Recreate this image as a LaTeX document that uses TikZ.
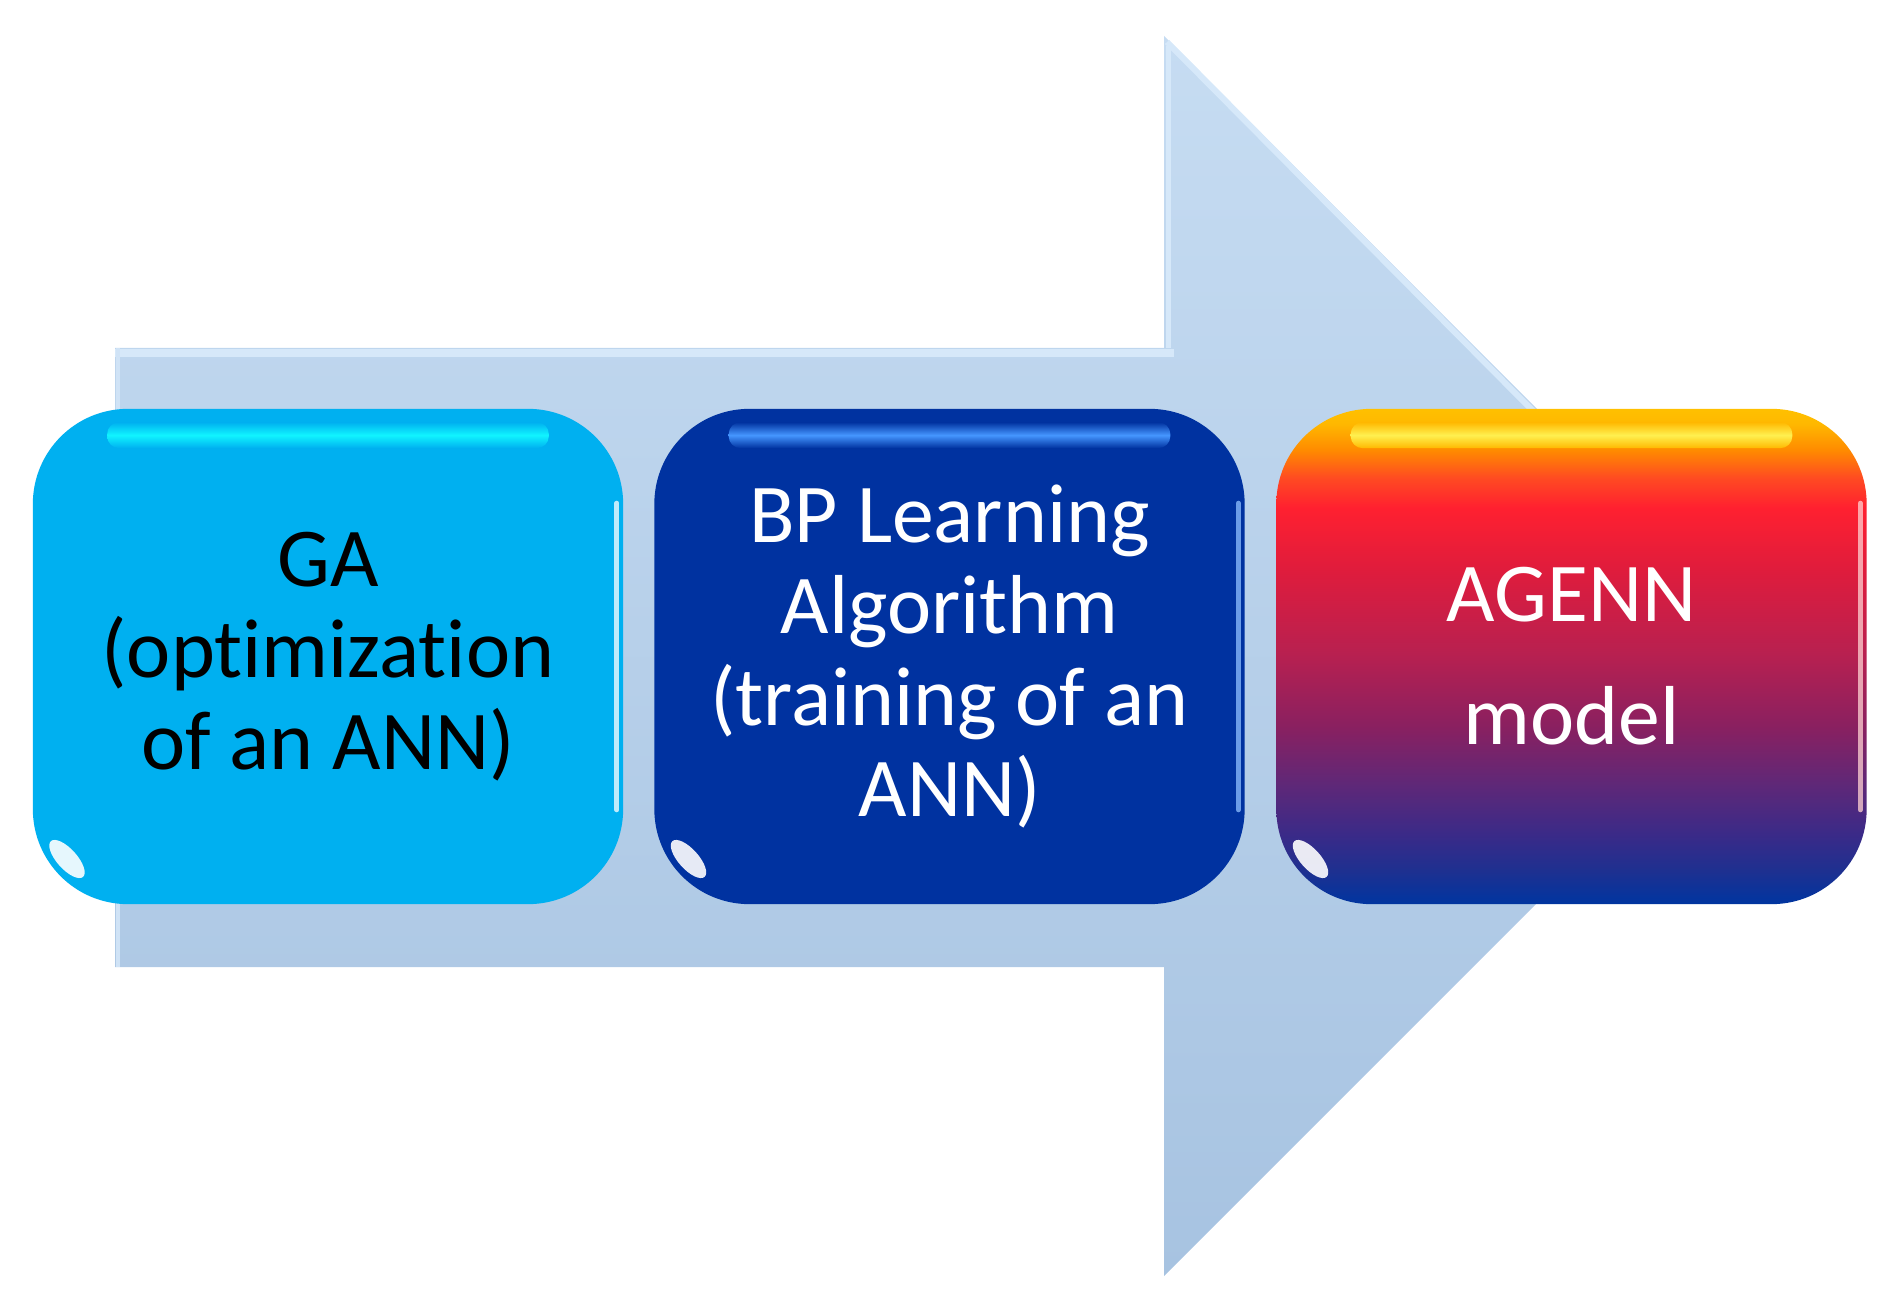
\documentclass[tikz,border=0pt]{standalone}
\usepackage{fontspec}
\setmainfont{Carlito}[Ligatures=NoCommon]
\usetikzlibrary{shapes.geometric}
\definecolor{arrowtop}{HTML}{C6DCF2}
\definecolor{arrowbot}{HTML}{A7C3E1}
\definecolor{arrowedge}{HTML}{D6E8F9}
\definecolor{gafill}{HTML}{00B0F0}
\definecolor{gahl}{HTML}{10F4FF}
\definecolor{bpfill}{HTML}{0032A0}
\definecolor{bphl}{HTML}{4596FF}
\definecolor{agyel}{HTML}{FFF050}
\definecolor{agA}{HTML}{0035A0}
\definecolor{agB}{HTML}{1E3090}
\definecolor{agC}{HTML}{3A2A88}
\definecolor{agD}{HTML}{5E2878}
\definecolor{agE}{HTML}{8A2060}
\definecolor{agF}{HTML}{B82050}
\definecolor{agG}{HTML}{E01C3C}
\definecolor{agH}{HTML}{FF2030}
\definecolor{agI}{HTML}{FF4A22}
\definecolor{agJ}{HTML}{FF8A00}
\definecolor{agK}{HTML}{FFB800}
\definecolor{agL}{HTML}{FFC000}
\pgfdeclareverticalshading{agenn}{100bp}{
  color(0bp)=(agA);
  color(25bp)=(agA);
  color(28.4bp)=(agB);
  color(32bp)=(agC);
  color(37bp)=(agD);
  color(43bp)=(agE);
  color(50.3bp)=(agF);
  color(58.9bp)=(agG);
  color(65bp)=(agH);
  color(68bp)=(agI);
  color(70.8bp)=(agJ);
  color(73.5bp)=(agK);
  color(75bp)=(agL);
  color(100bp)=(agL)}
\tikzset{
  box/.style={minimum width=5.9cm, minimum height=4.95cm, rounded corners=0.95cm,
    align=center, font=\fontsize{23.8}{26}\selectfont, inner sep=0pt},
  glossy/.style={ellipse, fill=white, fill opacity=0.9,
    minimum width=0.48cm, minimum height=0.2cm, inner sep=0pt, rotate=-48},
  rim/.style={line width=0.05cm, draw opacity=0.75, line cap=round},
}
\begin{document}
\begin{tikzpicture}[x=0.01cm,y=0.01cm]
\useasboundingbox (0,0) rectangle (1896,1311);
% big arrow
\coordinate (s1) at (115,963);
\coordinate (s2) at (1164,963);
\coordinate (h1) at (1164,1275);
\coordinate (tip) at (1784,655);
\coordinate (h2) at (1164,35);
\coordinate (s3) at (1164,344);
\coordinate (s4) at (115,344);
\shade[top color=arrowtop, bottom color=arrowbot]
  (s1) -- (s2) -- (h1) -- (tip) -- (h2) -- (s3) -- (s4) -- cycle;
\draw[arrowedge, line width=0.07cm] ([yshift=-0.05cm]s1) -- ([yshift=-0.05cm,xshift=0.1cm]s2);
\draw[arrowedge, line width=0.05cm] ([xshift=0.04cm]s2) -- ([xshift=0.04cm,yshift=-0.1cm]h1);
\draw[arrowedge, line width=0.06cm] ([xshift=0.03cm,yshift=-0.06cm]h1) -- ([xshift=-0.08cm]tip);
\draw[arrowedge!60!arrowtop, line width=0.04cm] ([xshift=0.03cm]s1) -- ([xshift=0.03cm]s4);
% boxes
\node[box, fill=gafill, text=black] (ga) at (328,654.5)
  {GA\\(optimization\\of an ANN)};
\node[box, fill=bpfill, text=white] (bp) at (949.5,654.5)
  {BP Learning\\Algorithm\\(training of an\\ANN)};
\node[box, shading=agenn, text=white,
  font=\fontsize{23.8}{35}\selectfont] (ag) at (1571.5,654.5)
  {AGENN\\model};
% highlight bands
\foreach \b/\base/\hl in {ga/gafill/gahl, bp/bpfill/bphl, ag/agK/agyel}{
  \shade[top color=\base, bottom color=\base, middle color=\hl, rounded corners=0.12cm]
    ([xshift=0.75cm,yshift=-0.14cm]\b.north west) rectangle ([xshift=-0.75cm,yshift=-0.4cm]\b.north east);
}
% gloss spots at the lower left corners
\node[glossy] (g1) at (67,452) {};
\node[glossy] (g2) at (688.5,452) {};
\node[glossy] (g3) at (1310.5,452) {};
% right rims
\draw[rim, draw=white] ([xshift=-0.07cm,yshift=-0.95cm]ga.north east) -- ([xshift=-0.07cm,yshift=0.95cm]ga.south east);
\draw[rim, draw=bphl!60!white] ([xshift=-0.07cm,yshift=-0.95cm]bp.north east) -- ([xshift=-0.07cm,yshift=0.95cm]bp.south east);
\draw[rim, draw=pink!70!white] ([xshift=-0.07cm,yshift=-0.95cm]ag.north east) -- ([xshift=-0.07cm,yshift=0.95cm]ag.south east);
\end{tikzpicture}
\end{document}
